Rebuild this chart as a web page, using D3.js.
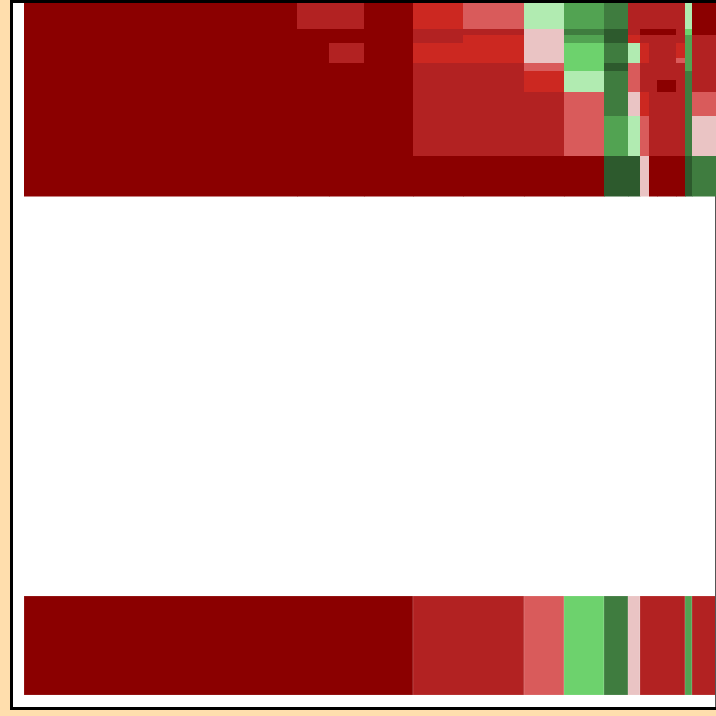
<!DOCTYPE html>
<html>
<head>
<meta charset="utf-8">
<script src="https://cdn.jsdelivr.net/npm/d3@7"></script>
<style>
  html, body { margin: 0; padding: 0; overflow: hidden; background: #ffdead; width: 716px; height: 716px; }
  #frame { position: absolute; left: 10px; top: 0; width: 800px; height: 704px; border: 3px solid #000; background: #fff; }
  #chart { position: absolute; left: 0; top: 0; }
</style>
</head>
<body>
<div id="frame"></div>
<svg id="chart"></svg>
<script>
var width = 716;
var height = 716;

// sectors (bottom strip) and their daily change
var sectors = ["Tech", "Comm", "Cyclical", "Defensive", "Health", "Industrial", "Financial", "Energy", "Utilities"];
var sectorChange = [-4, -2.5, -0.8, 0.8, 2.5, -0.2, -2.5, 1.5, -2.5];

// columns (stocks) with sector index and weight
var stocks = ["T1", "T2", "T3", "T4", "C1", "C2", "Y1", "D1", "H1", "I1", "F1", "F2", "F3", "F4", "E1", "U1"];
var stockSector = [0, 0, 0, 0, 1, 1, 2, 3, 4, 5, 6, 6, 6, 6, 7, 8];
var stockWeight = [273, 32, 35, 49, 50, 61, 40, 40, 24, 12, 9, 8, 19, 9, 7, 40];

// periods (rows) with weight
var periods = ["p1", "p2", "p3", "p4", "p5", "p6", "p7", "p8", "p9", "p10", "p11"];
var periodWeight = [26, 6, 8, 15, 5, 8, 9, 12, 24, 40, 40];
var gapWeight = 400;
var totalWeight = 99;

// change % for each period x stock
var cellChange = [
  [-4, -2.5, -2.5, -4, -1.5, -0.8, 0.2, 1.5, 2.5, -2.5, -2.5, -2.5, -2.5, -2.5, 0.2, -4],
  [-4, -4, -4, -4, -2.5, -2.5, -0.2, 2.5, 4, -2.5, -4, -4, -4, -2.5, 0.8, -4],
  [-4, -4, -4, -4, -2.5, -1.5, -0.2, 1.5, 4, -1.5, -2.5, -2.5, -2.5, -2.5, 1.5, -2.5],
  [-4, -4, -2.5, -4, -1.5, -1.5, -0.2, 0.8, 2.5, 0.2, -1.5, -2.5, -2.5, -1.5, 1.5, -2.5],
  [-4, -4, -2.5, -4, -1.5, -1.5, -0.2, 0.8, 2.5, 0.2, -1.5, -2.5, -2.5, -0.8, 1.5, -2.5],
  [-4, -4, -4, -4, -2.5, -2.5, -0.8, 0.8, 4, -0.8, -2.5, -2.5, -2.5, -2.5, 1.5, -2.5],
  [-4, -4, -4, -4, -2.5, -2.5, -1.5, 0.2, 2.5, -0.8, -2.5, -2.5, -2.5, -2.5, 2.5, -2.5],
  [-4, -4, -4, -4, -2.5, -2.5, -1.5, 0.2, 2.5, -0.8, -2.5, -2.5, -4, -2.5, 2.5, -2.5],
  [-4, -4, -4, -4, -2.5, -2.5, -2.5, -0.8, 2.5, -0.2, -1.5, -2.5, -2.5, -2.5, 2.5, -0.8],
  [-4, -4, -4, -4, -2.5, -2.5, -2.5, -0.8, 1.5, 0.2, -0.8, -2.5, -2.5, -2.5, 2.5, -0.2],
  [-4, -4, -4, -4, -4, -4, -4, -4, 4, 4, -0.2, -4, -4, -4, 4, 2.5]
];

var colorSteps = [-3, -2, -1, -0.5, 0, 0.5, 1, 2, 3];
var colorList = ["#8b0000", "#b22222", "#cc2821", "#d95b5b", "#eac4c4",
                 "#b1ebb1", "#6dd26d", "#52a352", "#3f7c3f", "#2d5a2d"];

var color = d3.scaleThreshold().domain(colorSteps).range(colorList);

// cumulative positions in data units
var xStart = d3.cumsum([0].concat(stockWeight));
var yStart = d3.cumsum([0].concat(periodWeight));
var topTotal = d3.sum(periodWeight);

var xScale = d3.scaleLinear()
  .domain([0, d3.sum(stockWeight)])
  .range([24, 732]);
var yScale = d3.scaleLinear()
  .domain([0, topTotal + gapWeight + totalWeight])
  .range([3, 695]);

var svg = d3.select("#chart").attr("width", width).attr("height", height);

// flatten cells
var cells = [];
cellChange.forEach(function (row, i) {
  row.forEach(function (v, j) {
    cells.push({ period: periods[i], stock: stocks[j], row: i, col: j, change: v });
  });
});

// sector totals: span the columns of the sector
var sectorData = sectors.map(function (s, k) {
  var cols = d3.range(stocks.length).filter(function (j) { return stockSector[j] === k; });
  return { name: s, change: sectorChange[k], c0: d3.min(cols), c1: d3.max(cols) + 1 };
});

// bottom strip
svg.append("g")
  .selectAll("rect")
  .data(sectorData)
  .enter()
  .append("rect")
  .attr("x", function (d) { return xScale(xStart[d.c0]); })
  .attr("width", function (d) { return xScale(xStart[d.c1]) - xScale(xStart[d.c0]); })
  .attr("y", yScale(topTotal + gapWeight))
  .attr("height", yScale(topTotal + gapWeight + totalWeight) - yScale(topTotal + gapWeight))
  .attr("fill", function (d) { return color(d.change); })
  .attr("stroke", "rgba(255,255,255,0.25)")
  .attr("stroke-width", 0.6);

// right edge line
svg.append("line")
  .attr("x1", 715.5).attr("x2", 715.5)
  .attr("y1", yScale(topTotal)).attr("y2", 707)
  .attr("stroke", "#555")
  .attr("stroke-width", 1);

// top grid
svg.append("g")
  .selectAll("rect")
  .data(cells)
  .enter()
  .append("rect")
  .attr("x", function (d) { return xScale(xStart[d.col]); })
  .attr("width", function (d) { return xScale(xStart[d.col + 1]) - xScale(xStart[d.col]) + 0.5; })
  .attr("y", function (d) { return yScale(yStart[d.row]); })
  .attr("height", function (d) { return yScale(yStart[d.row + 1]) - yScale(yStart[d.row]) + 0.5; })
  .attr("fill", function (d) { return color(d.change); })
  .append("title")
  .text(function (d) { return d.stock + " " + d.period + ": " + d.change + "%"; });
</script>
</body>
</html>
